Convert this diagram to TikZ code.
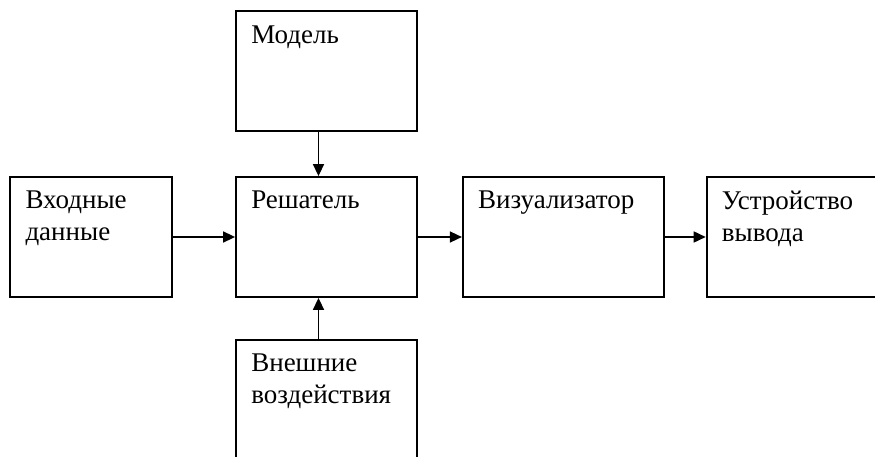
\documentclass[tikz,border=0pt]{standalone}
\usepackage{fontspec}
\setmainfont{Liberation Serif}
\usetikzlibrary{positioning, arrows.meta}

\begin{document}
\begin{tikzpicture}[
     node distance = 44pt and 44pt,
         box/.style = {rectangle, draw, line width=1.8pt, minimum height=120pt},
         txt/.style = {anchor=north west, inner sep=0pt, align=left, xshift=16pt, yshift=-15pt,
                       font=\fontsize{27pt}{32pt}\selectfont},
         arr/.style = {line width=1.6pt, -{Triangle[length=12pt, width=11pt]}}
                        ]
\clip (0pt,0pt) rectangle (875pt,-457pt);
\node (solver) [box, minimum width=181pt, label={[txt]north west:Решатель}] at (326.5pt,-237pt) {};
\node (input)  [box, minimum width=162pt, left=62pt of solver, label={[txt]north west:Входные\\данные}] {};
\node (model)  [box, minimum width=181pt, above=of solver, label={[txt]north west:Модель}] {};
\node (ext)    [box, minimum width=181pt, minimum height=130pt, below=41pt of solver, label={[txt]north west:Внешние\\воздействия}] {};
\node (visual) [box, minimum width=201pt, right=of solver, label={[txt]north west:Визуализатор}] {};
\node (output) [box, minimum width=190pt, right=41pt of visual, label={[txt]north west:Устройство\\вывода}] {};
\draw[arr] (input) to (solver);
\draw[arr] (solver) to (visual);
\draw[arr] (visual) to (output);
\draw[arr] ([xshift=-8pt]model.south) to ([xshift=-8pt]solver.north);
\draw[arr] ([xshift=-8pt]ext.north) to ([xshift=-8pt]solver.south);
\end{tikzpicture}
\end{document}
